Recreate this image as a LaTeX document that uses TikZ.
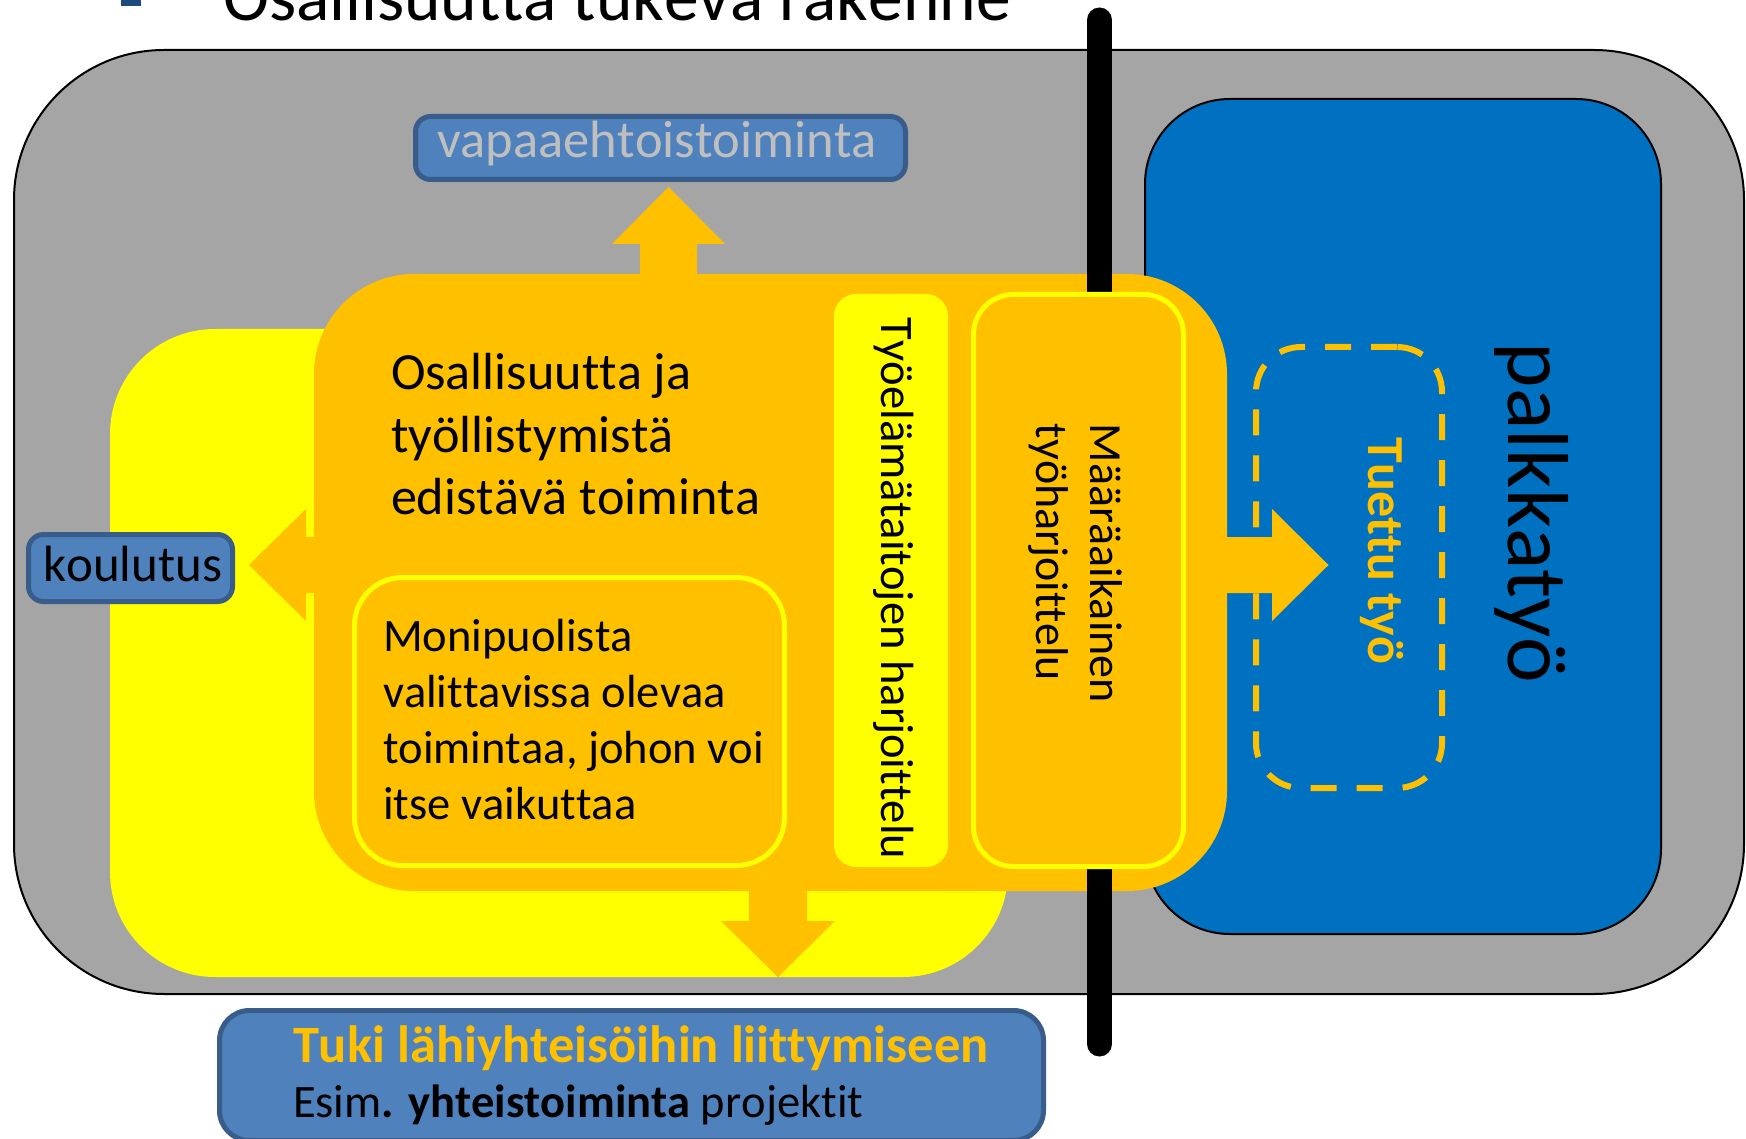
\documentclass[tikz,border=0pt]{standalone}
\usepackage{fontspec}
\setmainfont{Carlito}[Ligatures={NoCommon}, Kerning=Off]
\definecolor{grayfill}{HTML}{A5A5A5}
\definecolor{paybl}{HTML}{0070C0}
\definecolor{ylw}{HTML}{FFFF00}
\definecolor{orng}{HTML}{FFC000}
\definecolor{lblfill}{HTML}{4F81BD}
\definecolor{lblline}{HTML}{385D8A}
\definecolor{lbltext}{HTML}{BFBFBF}
\definecolor{bulletc}{HTML}{1F497D}
\begin{document}
\begin{tikzpicture}[x=1pt,y=-1pt,
  shapebox/.style={rectangle, inner sep=0pt, outer sep=0pt},
  lbl/.style={shapebox, fill=lblfill, draw=lblline, line width=5pt},
  txt/.style={inner sep=0pt, outer sep=0pt, anchor=base west},
  vtxt/.style={txt, rotate=-90},
  blockarrow/.style={fill=orng, draw=none}]
\useasboundingbox (0,0) rectangle (1746,1139);
\fill[white] (0,0) rectangle (1746,1139);

% big background shapes
\node[shapebox, fill=grayfill, draw=black, line width=2pt, rounded corners=150pt, minimum width=1730pt, minimum height=944pt] (outer) at (879,522) {};
\node[shapebox, fill=paybl, draw=black, line width=2pt, rounded corners=85pt, minimum width=516pt, minimum height=835pt] (pay) at (1403,516.5) {};
\node[shapebox, fill=ylw, rounded corners=105pt, minimum width=898pt, minimum height=648pt] (yel) at (559,653) {};
\node[shapebox, fill=orng, rounded corners=100pt, minimum width=913pt, minimum height=617pt] (org) at (770.5,582.5) {};

% block arrows
\fill[blockarrow] (640,282) -- (640,244) -- (612,244) -- (668.5,187) -- (725,244) -- (697,244) -- (697,282) -- cycle;
\fill[blockarrow] (322,537) -- (306,537) -- (306,509) -- (249,565) -- (306,621) -- (306,593) -- (322,593) -- cycle;
\fill[blockarrow] (1220,537) -- (1272,537) -- (1272,509) -- (1328.5,565) -- (1272,621) -- (1272,593) -- (1220,593) -- cycle;
\fill[blockarrow] (749,885) -- (749,921) -- (721,921) -- (778,977) -- (835,921) -- (807,921) -- (807,885) -- cycle;

% black divider bar
\coordinate (bartop) at (1099.5,20);
\coordinate (barbot) at (1099.5,1044);
\draw[line width=25pt, line cap=round] (bartop) -- (barbot);

% inner boxes
\node[shapebox, fill=orng, draw=ylw, line width=5pt, rounded corners=40pt, minimum width=210pt, minimum height=572pt] (maar) at (1078.5,580.5) {};
\node[shapebox, fill=ylw, rounded corners=22pt, minimum width=114pt, minimum height=573pt] (tyoel) at (891,580.5) {};
\node[shapebox, fill=orng, draw=ylw, line width=5pt, rounded corners=48pt, minimum width=430pt, minimum height=288pt] (moni) at (569.5,721.5) {};
\node[shapebox, draw=orng, line width=6pt, dash pattern=on 26pt off 20pt, rounded corners=45pt, minimum width=186pt, minimum height=441pt] (tuettu) at (1349,567.5) {};

% label boxes
\node[lbl, rounded corners=15pt, minimum width=490pt, minimum height=63pt] (vapaa) at (660.5,148) {};
\node[lbl, rounded corners=15pt, minimum width=204pt, minimum height=67pt] (koul) at (130.5,568) {};
\node[lbl, rounded corners=30pt, minimum width=824pt, minimum height=130pt] (tuki) at (631.5,1075.5) {};

% texts
\node[txt, font=\fontsize{69.5}{80}\selectfont] (title) at (223,21) {Osallisuutta tukeva rakenne};
\node[shapebox, fill=bulletc, minimum width=20pt, minimum height=16pt] (bullet) at (130.5,-2) {};

\node[txt, text=lbltext, font=\fontsize{52.5}{62}\selectfont] (vapaatxt) at (437,158) {vapaaehtoistoiminta};
\node[txt, font=\fontsize{51}{62}\selectfont] (koultxt) at (43,581) {koulutus};

\node[txt, font=\fontsize{52.2}{62.5}\selectfont] (maintxt) at (391,390)
  {\vtop{\hbox{Osallisuutta ja}\hbox{työllistymistä}\hbox{edistävä toiminta}}};
\node[txt, font=\fontsize{46.5}{56}\selectfont] (monitxt) at (383,651)
  {\vtop{\hbox{Monipuolista}\hbox{valittavissa olevaa}\hbox{toimintaa, johon voi}\hbox{itse vaikuttaa}}};

\node[vtxt, font=\fontsize{46.6}{56}\selectfont] (tyoeltxt) at (881,318) {Työelämätaitojen harjoittelu};
\node[vtxt, font=\fontsize{46}{54}\selectfont] (maartxt) at (1090,424)
  {\vtop{\hbox{Määräaikainen}\hbox{työharjoittelu}}};
\node[vtxt, font=\fontsize{86.5}{100}\selectfont] (paytxt) at (1508,343) {palkkatyö};
\node[vtxt, text=orng, font=\bfseries\fontsize{52}{60}\selectfont] (tuettutxt) at (1368,438) {Tuettu työ};

\node[txt, text=orng, font=\bfseries\fontsize{52.5}{62}\selectfont] (tukitxt) at (293,1062) {Tuki lähiyhteisöihin liittymiseen};
\node[txt, font=\fontsize{46.5}{56}\selectfont] (esimtxt) at (293,1117) {Esim\textbf{. yhteistoiminta} projektit};
\end{tikzpicture}
\end{document}
